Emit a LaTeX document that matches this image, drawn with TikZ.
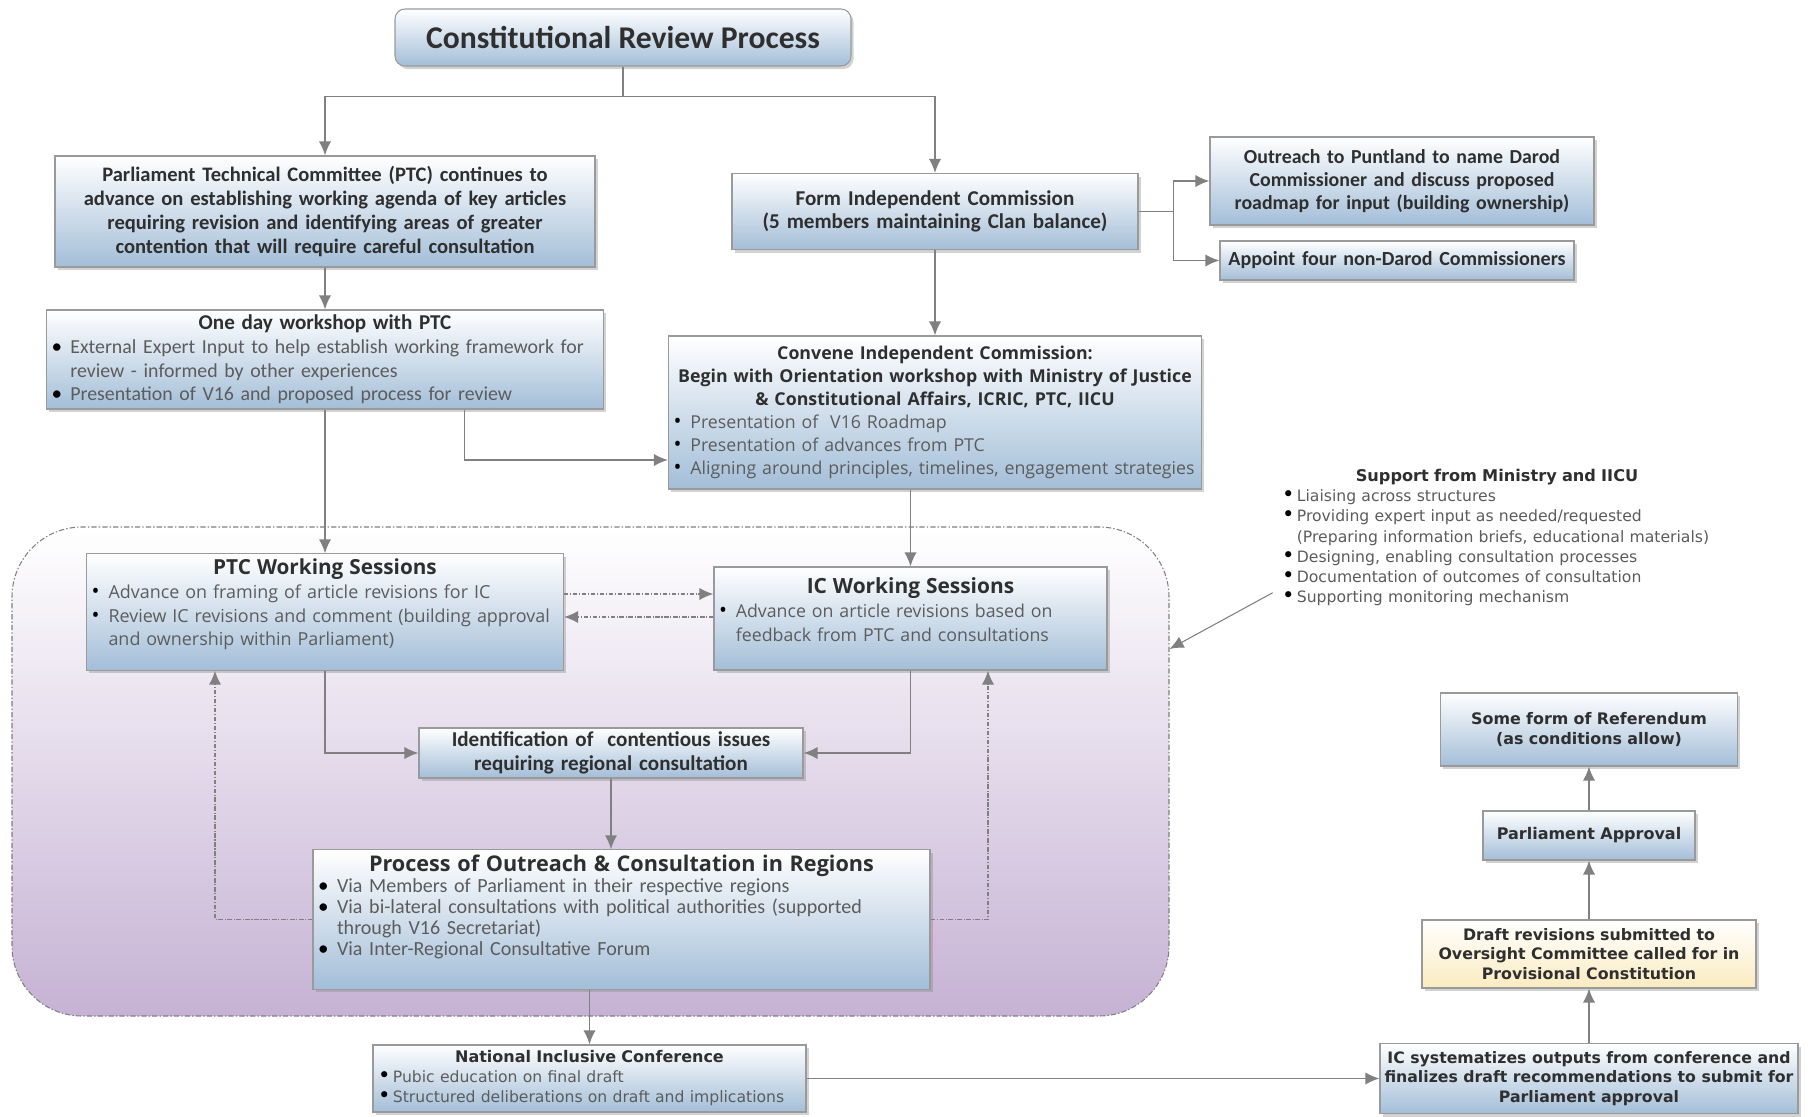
\documentclass[tikz,border=0pt]{standalone}
\usepackage{fontspec}
\setmainfont{Carlito}
\newfontfamily\verdfont{DejaVu Sans}
\newfontfamily\segfont{Open Sans}
\usetikzlibrary{shapes.geometric, arrows.meta, shadows}
\definecolor{boxline}{HTML}{9A9A9A}
\definecolor{boxblue}{HTML}{A3BED8}
\definecolor{titlegray}{HTML}{2F2F2F}
\definecolor{bulletgray}{HTML}{5C5C5C}
\definecolor{linegray}{HTML}{808080}
\definecolor{regionlav}{HTML}{C6B2D4}
\definecolor{draftyellow}{HTML}{FAEBC0}

% bullet line with hanging indent, use \newline inside for breaks
\newcommand{\bpoint}[1]{\par\noindent\hangindent=0.95em\hangafter=1\makebox[0.95em][l]{\textcolor{black}{\large\textbullet}}\textcolor{bulletgray}{#1}\par}

\tikzstyle{block} = [rectangle, 
draw=boxline, 
line width=0.6pt,
top color=white, 
bottom color=boxblue,
drop shadow={opacity=0.35, shadow xshift=0.05cm, shadow yshift=-0.06cm},
text=titlegray,
inner sep=0.1cm,
align=center]
\tikzstyle{titlebox} = [block, 
rounded corners=0.2cm, 
font=\fontsize{18}{21}\selectfont\bfseries]
\tikzstyle{listbox} = [block, align=left]
\tikzstyle{draftbox} = [block, bottom color=draftyellow]
\tikzstyle{regionbox} = [rectangle, 
rounded corners=1.4cm, 
draw=gray, 
line width=0.6pt,
dash pattern=on 3pt off 1.2pt on 0.8pt off 1.2pt,
top color=white, 
bottom color=regionlav]
\tikzstyle{supportnote} = [align=left, inner sep=0pt, text=titlegray]
\tikzstyle{arrow} = [line width=1pt, draw=linegray, -{Latex[length=8pt, width=7pt]}]
\tikzstyle{dotarrow} = [arrow, dash pattern=on 2.5pt off 1pt on 0.6pt off 1pt]
\tikzstyle{thinarrow} = [line width=0.6pt, draw=linegray, -{Latex[length=8pt, width=7pt]}]

\begin{document}
\begin{tikzpicture}[node distance=2cm]

\useasboundingbox (0,0) rectangle (36.22,-22.34);
\fill[white] (0,0) rectangle (36.22,-22.34);

\node (region) [regionbox, minimum width=23.14cm, minimum height=9.78cm] at (11.81,-15.43) {};

\node (title) [titlebox, minimum width=9.12cm, minimum height=1.14cm] at (12.46,-0.75) {Constitutional Review Process};

\node (ptc) [block, below of=title, xshift=-5.96cm, yshift=-1.48cm, text width=10.6cm, minimum height=2.22cm, font=\fontsize{11.7}{13.6}\selectfont\bfseries] {Parliament Technical Committee (PTC) continues to\\ advance on establishing working agenda of key articles\\ requiring revision and identifying areas of greater\\ contention that will require careful consultation};
\node (formic) [block, right of=ptc, xshift=10.2cm, text width=7.92cm, minimum height=1.52cm, font=\fontsize{12}{13.4}\selectfont\bfseries] {Form Independent Commission\\ (5 members maintaining Clan balance)};
\node (outreach) [block, right of=formic, xshift=7.34cm, yshift=0.61cm, text width=7.48cm, minimum height=1.76cm, font=\fontsize{11.3}{13}\selectfont\bfseries] {Outreach to Puntland to name Darod\\ Commissioner and discuss proposed\\ roadmap for input (building ownership)};
\node (appoint) [block, below of=outreach, xshift=-0.1cm, yshift=0.41cm, text width=6.88cm, minimum height=0.78cm, font=\fontsize{11.4}{13}\selectfont\bfseries] {Appoint four non-Darod Commissioners};
\draw[arrow] (title.south) -- ++(0,-0.6) -| (ptc.north);
\draw[arrow] (title.south) -- ++(0,-0.6) -| (formic.north);
\draw[arrow] (formic.east) -- ++(0.7,0) |- (outreach.west);
\draw[arrow] (formic.east) -- ++(0.7,0) |- (appoint.west);

\node (workshop) [listbox, below of=ptc, yshift=-0.96cm, text width=10.94cm, minimum height=1.98cm, font=\fontsize{11.3}{13.4}\selectfont] {{\centering\fontsize{12}{13.4}\selectfont\bfseries One day workshop with PTC\par}
\bpoint{External Expert Input to help establish working framework for\newline review - informed by other experiences}
\bpoint{Presentation of V16 and proposed process for review}};
\node (convene) [listbox, below of=formic, yshift=-2.02cm, text width=10.46cm, minimum height=3.06cm, font=\segfont\fontsize{10.1}{13.1}\selectfont] {{\centering\bfseries Convene Independent Commission:\\ Begin with Orientation workshop with Ministry of Justice\\ \& Constitutional Affairs, ICRIC, PTC, IICU\par}
\bpoint{Presentation of \ V16 Roadmap}
\bpoint{Presentation of advances from PTC}
\bpoint{Aligning around principles, timelines, engagement strategies}};
\draw[arrow] (ptc) -- (workshop);
\draw[arrow] (formic) -- (convene);
\draw[arrow] ([xshift=2.79cm]workshop.south) |- ([yshift=-0.95cm]convene.west);

\node (ptcws) [listbox, below of=workshop, yshift=-3.05cm, text width=9.34cm, minimum height=2.32cm, font=\segfont\fontsize{10.2}{13.5}\selectfont] {{\centering\fontsize{11.8}{14}\selectfont\bfseries PTC Working Sessions\par}
\bpoint{Advance on framing of article revisions for IC}
\bpoint{Review IC revisions and comment (building approval\newline and ownership within Parliament)}\vspace*{0.3cm}};
\node (icws) [listbox, below of=convene, xshift=-0.49cm, yshift=-2.12cm, text width=7.66cm, minimum height=2.06cm, font=\segfont\fontsize{10.1}{13.5}\selectfont] {{\centering\fontsize{11.9}{14}\selectfont\bfseries IC Working Sessions\par}
\bpoint{Advance on article revisions based on\newline feedback from PTC and consultations}\vspace*{0.35cm}};
\draw[arrow] (workshop) -- (ptcws);
\draw[arrow] (icws.north |- convene.south) -- (icws.north);
\draw[dotarrow] ([yshift=0.36cm]ptcws.east) -- ([yshift=0.36cm]ptcws.east -| icws.west);
\draw[dotarrow] ([yshift=-0.1cm]ptcws.east -| icws.west) -- ([yshift=-0.1cm]ptcws.east);

\node (ident) [block, below of=ptcws, xshift=5.72cm, yshift=-0.82cm, text width=7.48cm, minimum height=1.0cm, inner ysep=0.02cm, font=\fontsize{12}{13.8}\selectfont\bfseries] {Identification of \ contentious issues\\ requiring regional consultation};
\draw[arrow] (ptcws.south) |- (ident.west);
\draw[arrow] (icws.south) |- (ident.east);

\node (process) [listbox, below of=ident, xshift=0.21cm, yshift=-1.33cm, text width=12.14cm, minimum height=2.74cm, font=\fontsize{11.4}{12}\selectfont] {{\centering\segfont\fontsize{12.3}{14}\selectfont\bfseries Process of Outreach \& Consultation in Regions\par}
\bpoint{Via Members of Parliament in their respective regions}
\bpoint{Via bi-lateral consultations with political authorities (supported\newline through V16 Secretariat)}
\bpoint{Via Inter-Regional Consultative Forum}\vspace*{0.5cm}};
\draw[arrow] (ident.south) -- (ident.south |- process.north);
\draw[dotarrow] (process.west) -| ([xshift=-2.2cm]ptcws.south);
\draw[dotarrow] (process.east) -| ([xshift=1.55cm]icws.south);

\node (national) [listbox, below of=process, xshift=-0.64cm, yshift=-1.18cm, text width=8.46cm, minimum height=1.34cm, inner ysep=0.05cm, font=\verdfont\fontsize{8.9}{11.4}\selectfont] {{\centering\fontsize{9.1}{11.4}\selectfont\bfseries National Inclusive Conference\par}
\bpoint{Pubic education on final draft}
\bpoint{Structured deliberations on draft and implications}};
\draw[arrow] (national.north |- process.south) -- (national.north);

\node (icsys) [block, right of=national, xshift=17.99cm, minimum width=8.36cm, minimum height=1.4cm, inner xsep=0.02cm, inner ysep=0.05cm, font=\verdfont\fontsize{8.95}{11.2}\selectfont\bfseries] {IC systematizes outputs from conference and\\ finalizes draft recommendations to submit for\\ Parliament approval};
\node (draft) [draftbox, above of=icsys, yshift=0.49cm, text width=6.48cm, minimum height=1.36cm, inner ysep=0.05cm, font=\verdfont\fontsize{9}{11.2}\selectfont\bfseries] {Draft revisions submitted to\\ Oversight Committee called for in\\ Provisional Constitution};
\node (parl) [block, above of=draft, yshift=0.37cm, text width=4.04cm, minimum height=0.98cm, font=\verdfont\fontsize{9.1}{11.2}\selectfont\bfseries] {Parliament Approval};
\node (refer) [block, above of=parl, yshift=0.12cm, text width=5.74cm, minimum height=1.46cm, font=\verdfont\fontsize{9.05}{11.2}\selectfont\bfseries] {Some form of Referendum\\ (as conditions allow)};
\draw[arrow] (national) -- (icsys);
\draw[arrow] (icsys) -- (draft);
\draw[arrow] (draft) -- (parl);
\draw[arrow] (parl) -- (refer);

\node (support) [supportnote, right of=convene, xshift=9.24cm, yshift=-2.5cm, text width=8.6cm, font=\verdfont\fontsize{8.9}{11.5}\selectfont] {{\centering\fontsize{9.2}{11.5}\selectfont\bfseries Support from Ministry and IICU\par}
\bpoint{Liaising across structures}
\bpoint{Providing expert input as needed/requested\newline (Preparing information briefs, educational materials)}
\bpoint{Designing, enabling consultation processes}
\bpoint{Documentation of outcomes of consultation}
\bpoint{Supporting monitoring mechanism}};
\draw[thinarrow] ([xshift=-0.18cm, yshift=0.27cm]support.south west) -- ([yshift=2.45cm]region.east);

\end{tikzpicture}
\end{document}
